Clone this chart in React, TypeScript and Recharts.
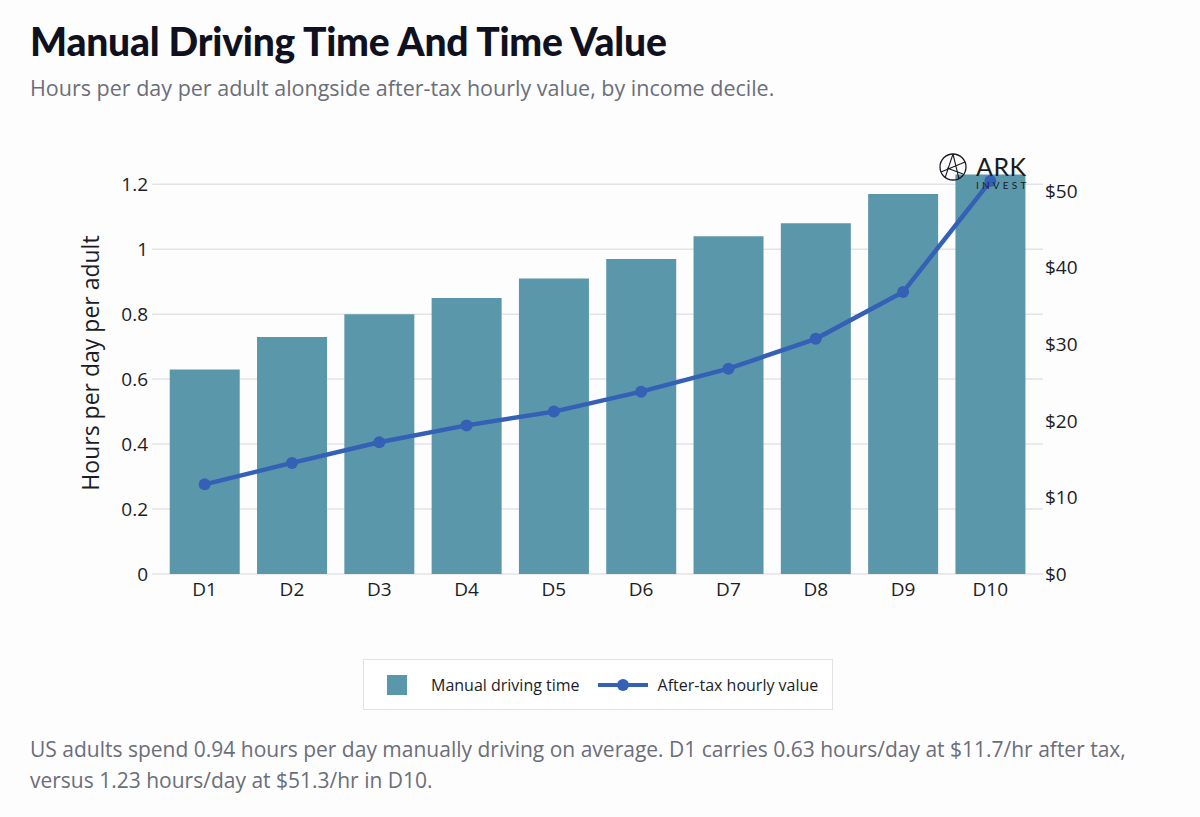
import { ComposedChart, Bar, Line, XAxis, YAxis, CartesianGrid } from "recharts";

const deciles = ["D1", "D2", "D3", "D4", "D5", "D6", "D7", "D8", "D9", "D10"];
const drivingHours = [0.63, 0.73, 0.8, 0.85, 0.91, 0.97, 1.04, 1.08, 1.17, 1.23];
const hourlyValue = [11.7, 14.5, 17.2, 19.4, 21.2, 23.8, 26.8, 30.7, 36.8, 51.3];
const hourTicks = [0, 0.2, 0.4, 0.6, 0.8, 1, 1.2];
const dollarTicks = [0, 10, 20, 30, 40, 50];

const BAR_COLOR = "#5b97aa";
const LINE_COLOR = "#3461b6";
const TITLE_FONT = "Lato, 'Noto Sans', sans-serif";
const FONT = "'Open Sans', 'Noto Sans', sans-serif";

const data = deciles.map((d, i) => ({
  decile: d,
  hours: drivingHours[i],
  value: hourlyValue[i],
}));

export default function App() {
  return (
    <div
      style={{
        position: "absolute",
        left: 0,
        top: 0,
        width: 1200,
        height: 817,
        background: "#fdfdfe",
        fontFamily: FONT,
        overflow: "hidden",
      }}
    >
      <div
        style={{
          position: "absolute",
          left: 30,
          top: 22,
          fontSize: 39,
          lineHeight: 1,
          fontWeight: 900,
          fontFamily: TITLE_FONT,
          color: "#0f1020",
          letterSpacing: -0.2,
          whiteSpace: "nowrap",
        }}
      >
        Manual Driving Time And Time Value
      </div>
      <div
        style={{
          position: "absolute",
          left: 30,
          top: 77,
          fontSize: 21.5,
          lineHeight: 1,
          color: "#6b6e78",
          whiteSpace: "nowrap",
        }}
      >
        Hours per day per adult alongside after-tax hourly value, by income decile.
      </div>

      <div style={{ position: "absolute", left: 0, top: 0 }}>
        <ComposedChart
          width={1200}
          height={640}
          data={data}
          margin={{ top: 168, right: 97, left: 0, bottom: 26 }}
          barCategoryGap="10%"
        >
          <CartesianGrid
            yAxisId="hours"
            vertical={false}
            horizontalValues={hourTicks}
            stroke="#e3e3e8"
            strokeWidth={1.5}
          />
          <XAxis
            dataKey="decile"
            height={40}
            padding={{ left: 9, right: 9 }}
            axisLine={false}
            tickLine={false}
            tickSize={0}
            tickMargin={9}
            tick={{ fill: "#1c1c24", fontSize: 19, fontFamily: FONT }}
          />
          <YAxis
            yAxisId="hours"
            orientation="left"
            width={152}
            domain={[0, 1.25]}
            ticks={hourTicks}
            axisLine={false}
            tickLine={false}
            tickSize={0}
            tickMargin={4}
            tick={{ fill: "#1c1c24", fontSize: 19, fontFamily: FONT }}
            label={{
              content: ({ viewBox }: any) => {
                const cy = viewBox.y + viewBox.height / 2 - 8;
                return (
                  <text
                    x={90}
                    y={cy}
                    transform={`rotate(-90 90 ${cy})`}
                    textAnchor="middle"
                    dominantBaseline="central"
                    fill="#1c1c24"
                    fontSize={23}
                    fontFamily={FONT}
                  >
                    Hours per day per adult
                  </text>
                );
              },
            }}
          />
          <YAxis
            yAxisId="value"
            orientation="right"
            width={60}
            domain={[0, 53]}
            ticks={dollarTicks}
            tickFormatter={(v) => `$${v}`}
            axisLine={false}
            tickLine={false}
            tickSize={0}
            tickMargin={2}
            tick={{ fill: "#1c1c24", fontSize: 19, fontFamily: FONT, textAnchor: "start" }}
          />
          <Bar yAxisId="hours" dataKey="hours" fill={BAR_COLOR} isAnimationActive={false} />
          <Line
            yAxisId="value"
            type="linear"
            dataKey="value"
            stroke={LINE_COLOR}
            strokeWidth={4.5}
            dot={{ r: 6, fill: LINE_COLOR, stroke: LINE_COLOR, strokeWidth: 0 }}
            activeDot={false}
            isAnimationActive={false}
          />
        </ComposedChart>
      </div>

      {/* ARK Invest watermark */}
      <svg
        width={110}
        height={44}
        style={{ position: "absolute", left: 938, top: 152 }}
        viewBox="0 0 110 44"
      >
        <circle cx={15} cy={15} r={13} fill="none" stroke="#1b1b22" strokeWidth={1.3} />
        <path d="M15 2 L7 26 M15 2 L21 27 M3 20 L27 10 M9 16 L25 22" stroke="#1b1b22" strokeWidth={1.1} fill="none" />
        <text x={38} y={24} fontSize={25} fontFamily={TITLE_FONT} fill="#1b1b22" letterSpacing={0.5}>
          ARK
        </text>
        <text x={38} y={37} fontSize={10} fontFamily={TITLE_FONT} fill="#1b1b22" letterSpacing={3.2}>
          INVEST
        </text>
      </svg>

      {/* legend */}
      <div
        style={{
          position: "absolute",
          left: 363,
          top: 659,
          width: 470,
          height: 51,
          boxSizing: "border-box",
          border: "1.5px solid #e2e2e6",
          background: "#fff",
          display: "flex",
          alignItems: "center",
          fontSize: 16,
          color: "#1c1c24",
          whiteSpace: "nowrap",
        }}
      >
        <div style={{ width: 20, height: 20, background: BAR_COLOR, marginLeft: 23 }} />
        <span style={{ marginLeft: 24 }}>Manual driving time</span>
        <svg width={52} height={14} style={{ marginLeft: 17 }}>
          <line x1={1} y1={7} x2={51} y2={7} stroke={LINE_COLOR} strokeWidth={4} />
          <circle cx={26} cy={7} r={6} fill={LINE_COLOR} />
        </svg>
        <span style={{ marginLeft: 9 }}>After-tax hourly value</span>
      </div>

      <div
        style={{
          position: "absolute",
          left: 30,
          top: 734,
          fontSize: 21,
          lineHeight: "31px",
          color: "#6b6e78",
          whiteSpace: "nowrap",
        }}
      >
        US adults spend 0.94 hours per day manually driving on average. D1 carries 0.63 hours/day at $11.7/hr after tax,
        <br />
        versus 1.23 hours/day at $51.3/hr in D10.
      </div>
    </div>
  );
}
